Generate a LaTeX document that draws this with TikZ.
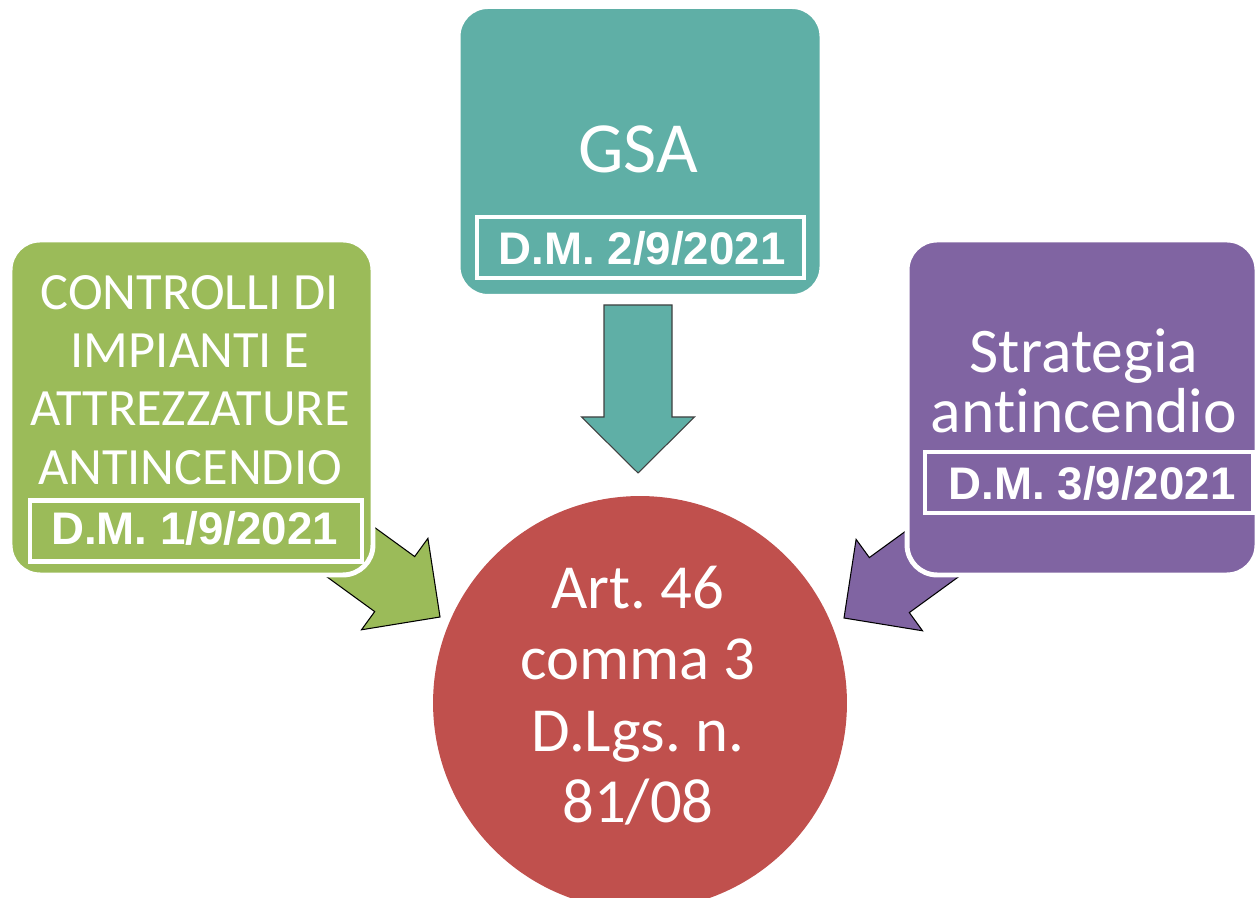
\documentclass[tikz,border=0pt]{standalone}
\usepackage{fontspec}
\setmainfont{Carlito}[Ligatures={NoCommon,NoContextual}]
\newfontfamily\dmfont{Liberation Sans}
\definecolor{cgreen}{HTML}{9BBB59}
\definecolor{cteal}{HTML}{5FAFA6}
\definecolor{cpurple}{HTML}{8064A2}
\definecolor{cred}{HTML}{C0504D}
\newcommand\blockarrowpath{(0,0) -- (-56,56.5) -- (-56,34) -- (-168,34) -- (-168,-34) -- (-56,-34) -- (-56,-56.5) -- cycle}
\frenchspacing
\begin{document}
\begin{tikzpicture}[x=0.02cm,y=0.02cm,
  box/.style={draw=white, line width=2.8pt, rounded corners=0.6cm, inner sep=0pt, shape=rectangle},
  dmbox/.style={draw=white, line width=2.3pt, inner sep=0pt, shape=rectangle},
  dmtext/.style={anchor=base, text=white, inner sep=0pt, font=\dmfont\bfseries\fontsize{26pt}{30pt}\selectfont},
  gtext/.style={anchor=base, text=white, inner sep=0pt, font=\fontsize{29.8pt}{33pt}\selectfont},
  ptext/.style={anchor=base, text=white, inner sep=0pt, font=\fontsize{36.2pt}{38pt}\selectfont},
  ttext/.style={anchor=base, text=white, inner sep=0pt, font=\fontsize{41pt}{44pt}\selectfont},
  ctext/.style={anchor=base, text=white, inner sep=0pt, font=\fontsize{35.7pt}{38pt}\selectfont},
  blockarrow/.style={draw=black, line width=0.6pt, line join=miter}]
\useasboundingbox (0,0) rectangle (1256,898);
% arrow tips
\coordinate (gtip) at (440,281);
\coordinate (ttip) at (638,425);
\coordinate (ptip) at (844,280);
% block arrows
\begin{scope}[shift={(gtip)}, rotate=-36]
  \draw[blockarrow, fill=cgreen] \blockarrowpath;
\end{scope}
\begin{scope}[shift={(ttip)}, rotate=-90]
  \draw[blockarrow, draw=black!75, fill=cteal] \blockarrowpath;
\end{scope}
\begin{scope}[shift={(ptip)}, rotate=-144]
  \draw[blockarrow, fill=cpurple] \blockarrowpath;
\end{scope}
% boxes
\node[box, fill=cgreen, minimum width=7.26cm, minimum height=6.7cm] (green) at (191.5,490.5) {};
\node[box, fill=cteal, minimum width=7.28cm, minimum height=5.8cm] (teal) at (640,746.5) {};
\node[box, fill=cpurple, minimum width=7.0cm, minimum height=6.7cm] (purple) at (1082,490.5) {};
% central circle
\node[circle, fill=cred, minimum size=8.28cm, inner sep=0pt] (art) at (640,195) {};
% inner DM frames
\node[dmbox, minimum width=6.64cm, minimum height=1.22cm] (gdm) at (196,367) {};
\node[dmbox, minimum width=6.54cm, minimum height=1.22cm] (tdm) at (640.5,650.5) {};
\node[dmbox, minimum width=6.56cm, minimum height=1.22cm] (pdm) at (1089,415.5) {};
% texts
\node[gtext] (g1) at (190,588) {CONTROLLI DI};
\node[gtext] (g2) at (190,530) {IMPIANTI E};
\node[gtext] (g3) at (190,472) {ATTREZZATURE};
\node[gtext] (g4) at (190,413) {ANTINCENDIO};
\node[dmtext] (gd) at (194.5,353) {D.M. 1/9/2021};
\node[ttext] (t1) at (638,725) {GSA};
\node[dmtext] (td) at (642,633) {D.M. 2/9/2021};
\node[ptext] (p1) at (1084,525) {Strategia};
\node[ptext] (p2) at (1084,465) {antincendio};
\node[dmtext] (pd) at (1092,398) {D.M. 3/9/2021};
\node[ctext] (c1) at (638,289) {Art. 46};
\node[ctext] (c2) at (638,218) {comma 3};
\node[ctext] (c3) at (638,146) {D.Lgs. n.};
\node[ctext] (c4) at (638,75) {81/08};
\end{tikzpicture}
\end{document}
